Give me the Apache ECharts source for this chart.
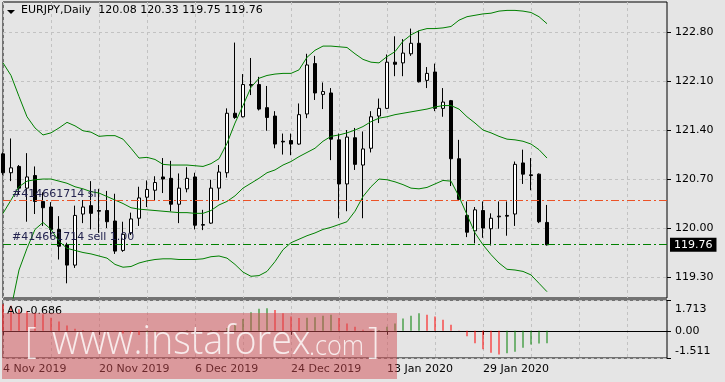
<!DOCTYPE html>
<html><head><meta charset="utf-8">
<script src="https://cdn.jsdelivr.net/npm/echarts@6/dist/echarts.min.js"></script>
<style>html,body{margin:0;padding:0;background:#e5e5e5;overflow:hidden}#c{width:725px;height:382px}</style>
</head><body><div id="c"></div>
<script>
const symbol = 'EURJPY';
const period = 'Daily';
const orderId = '414661714';
const dates = ['4 Nov 2019','5 Nov 2019','6 Nov 2019','7 Nov 2019','8 Nov 2019','11 Nov 2019','12 Nov 2019','13 Nov 2019','14 Nov 2019','15 Nov 2019','18 Nov 2019','19 Nov 2019','20 Nov 2019','21 Nov 2019','22 Nov 2019','25 Nov 2019','26 Nov 2019','27 Nov 2019','28 Nov 2019','29 Nov 2019','2 Dec 2019','3 Dec 2019','4 Dec 2019','5 Dec 2019','6 Dec 2019','9 Dec 2019','10 Dec 2019','11 Dec 2019','12 Dec 2019','13 Dec 2019','16 Dec 2019','17 Dec 2019','18 Dec 2019','19 Dec 2019','20 Dec 2019','23 Dec 2019','24 Dec 2019','26 Dec 2019','27 Dec 2019','30 Dec 2019','31 Dec 2019','2 Jan 2020','3 Jan 2020','6 Jan 2020','7 Jan 2020','8 Jan 2020','9 Jan 2020','10 Jan 2020','13 Jan 2020','14 Jan 2020','15 Jan 2020','16 Jan 2020','17 Jan 2020','20 Jan 2020','21 Jan 2020','22 Jan 2020','23 Jan 2020','24 Jan 2020','27 Jan 2020','28 Jan 2020','29 Jan 2020','30 Jan 2020','31 Jan 2020','3 Feb 2020','4 Feb 2020','5 Feb 2020','6 Feb 2020','7 Feb 2020','10 Feb 2020'];
const open  = [121.06,120.79,120.88,120.57,120.75,120.38,120.30,119.98,119.76,119.47,120.20,120.32,120.25,120.25,120.10,119.68,119.93,120.14,120.44,120.54,120.73,120.71,120.34,120.56,120.73,120.04,120.07,120.57,120.79,121.64,121.59,122.05,122.05,121.72,121.60,121.24,121.25,121.20,121.63,122.35,121.91,121.93,121.26,120.63,121.29,120.90,121.14,121.60,121.71,122.37,122.36,122.49,122.64,122.11,122.23,121.71,121.82,120.99,120.18,119.96,120.25,119.99,120.16,120.18,120.20,120.93,120.76,120.77,120.08];
const high  = [121.08,121.28,120.90,121.07,120.88,120.51,120.37,120.17,119.79,120.32,120.40,120.67,120.56,120.53,120.49,120.09,120.22,120.59,120.68,120.74,121.00,120.96,120.78,120.87,120.79,120.26,120.69,120.90,121.71,122.65,122.20,122.43,122.16,122.03,121.67,121.35,121.35,121.78,122.49,122.46,122.08,122.00,121.35,121.40,121.43,121.38,121.67,121.85,122.48,122.74,122.70,122.85,122.82,122.30,122.35,122.00,121.83,121.26,120.38,120.30,120.38,120.21,120.38,120.38,120.95,121.12,121.00,120.78,120.33];
const low   = [120.76,120.67,120.48,120.09,120.20,120.03,119.90,119.55,119.21,119.43,120.07,119.98,119.93,120.00,119.63,119.66,119.90,120.03,120.30,120.39,120.50,120.24,120.07,120.51,119.98,119.97,120.06,120.40,120.72,121.56,121.58,121.90,121.68,121.39,121.14,121.05,121.04,121.19,121.57,121.83,121.70,120.97,120.14,120.24,120.83,120.14,121.08,121.50,121.70,122.17,122.17,122.46,122.08,122.00,121.67,121.59,120.60,120.39,119.87,119.78,119.86,119.75,119.99,119.89,120.03,120.63,120.54,120.07,119.75];
const close = [120.79,120.86,120.57,120.73,120.38,120.29,119.98,119.74,119.47,120.18,120.30,120.21,120.24,120.09,119.67,119.91,120.13,120.43,120.55,120.65,120.70,120.34,120.57,120.71,120.04,120.05,120.57,120.80,121.64,121.58,122.05,122.04,121.70,121.58,121.20,121.23,121.20,121.62,122.33,121.93,121.95,121.27,120.63,121.30,120.91,121.13,121.59,121.71,122.37,122.34,122.50,122.64,122.09,122.21,121.71,121.80,120.99,120.41,119.94,120.26,120.00,120.14,120.17,120.17,120.91,120.77,120.75,120.09,119.76];
const bbUpper  = [122.36,122.18,121.88,121.59,121.43,121.33,121.36,121.43,121.51,121.46,121.39,121.37,121.31,121.32,121.32,121.27,121.14,121.00,121.01,120.98,120.91,120.90,120.90,120.90,120.89,120.88,120.92,120.99,121.21,121.50,121.75,122.01,122.14,122.18,122.20,122.21,122.21,122.26,122.44,122.54,122.60,122.60,122.59,122.58,122.49,122.41,122.37,122.36,122.45,122.52,122.67,122.76,122.82,122.85,122.85,122.86,122.88,122.97,123.02,123.04,123.06,123.07,123.10,123.11,123.11,123.10,123.08,123.02,122.92];
const bbMiddle = [120.21,120.40,120.59,120.67,120.69,120.70,120.70,120.67,120.64,120.59,120.56,120.52,120.50,120.45,120.40,120.35,120.29,120.27,120.26,120.25,120.24,120.23,120.22,120.22,120.21,120.21,120.25,120.33,120.38,120.46,120.57,120.64,120.71,120.79,120.83,120.90,120.95,121.02,121.08,121.14,121.24,121.31,121.33,121.36,121.40,121.45,121.52,121.57,121.59,121.62,121.64,121.66,121.68,121.70,121.73,121.75,121.75,121.70,121.59,121.50,121.40,121.36,121.31,121.27,121.26,121.24,121.20,121.12,121.00];
const bbLower  = [118.50,118.85,119.40,119.71,119.98,120.08,119.98,119.81,119.71,119.68,119.65,119.63,119.60,119.57,119.48,119.44,119.45,119.50,119.53,119.55,119.56,119.56,119.55,119.55,119.55,119.56,119.59,119.60,119.57,119.48,119.37,119.31,119.32,119.38,119.52,119.69,119.79,119.84,119.89,119.93,119.98,120.01,120.05,120.09,120.24,120.45,120.59,120.70,120.69,120.66,120.62,120.57,120.56,120.58,120.63,120.68,120.67,120.45,120.19,119.93,119.76,119.62,119.50,119.41,119.40,119.38,119.33,119.21,119.09];
const ao = [1.48,1.39,1.20,1.10,1.01,0.92,0.73,0.52,0.30,0.11,0.05,0.03,0.00,0.02,-0.02,-0.15,-0.21,-0.23,-0.20,-0.08,-0.03,0.01,0.02,0.05,0.03,0.02,0.04,0.03,0.15,0.37,0.66,1.03,1.22,1.25,1.16,0.97,0.79,0.71,0.72,0.75,0.84,0.90,0.71,0.41,0.22,0.06,0.02,0.04,0.22,0.41,0.69,0.84,0.97,0.90,0.79,0.62,0.34,0.02,-0.30,-0.69,-1.03,-1.22,-1.31,-1.25,-1.16,-0.94,-0.76,-0.70,-0.686];
const priceTicks = [119.30,120.00,120.70,121.40,122.10,122.80];
const aoTicks = [-1.511,0,1.713];
const slPrice = 120.39;
const sellPrice = 119.77;
const lastPrice = 119.76;

const FONT = 'DejaVu Sans';
const N_SLOTS = 84;
const L = dates.length - 1;
const cats = dates.concat(Array(N_SLOTS - dates.length).fill(''));
const gridDash = {color:'#c2c2c2', type:[3,3], width:1};
const everySix = (i) => i % 6 === 0;
const labelIdx = (i) => i % 12 === 0 && i < dates.length;
const candles = dates.map((d,i) => [open[i], close[i], low[i], high[i]]);
const aoBars = ao.map((v,i) => ({value:v, itemStyle:{color:(i>0 && v>ao[i-1]) ? '#008000' : '#ff0000'}}));

const chart = echarts.init(document.getElementById('c'), null, {width:725, height:382});
chart.setOption({
  animation:false,
  backgroundColor:'#e5e5e5',
  textStyle:{fontFamily:FONT},
  title:[
    {text:`${symbol},${period}  ${open[L].toFixed(2)} ${high[L].toFixed(2)} ${low[L].toFixed(2)} ${close[L].toFixed(2)}`,
     left:21, top:5, padding:0, textStyle:{fontSize:11, fontWeight:'normal', color:'#000', fontFamily:FONT}},
    {text:'AO ' + ao[L].toFixed(3), left:7, top:306, padding:0,
     textStyle:{fontSize:11, fontWeight:'normal', color:'#000', fontFamily:FONT}}
  ],
  grid:[
    {left:3, top:2, width:664, height:296, show:true, borderColor:'#000', borderWidth:1, backgroundColor:'transparent'},
    {left:3, top:300, width:664, height:58, show:true, borderColor:'#000', borderWidth:1, backgroundColor:'transparent'}
  ],
  xAxis:[
    {type:'category', gridIndex:0, data:cats, boundaryGap:false,
     axisLine:{show:false}, axisTick:{show:false}, axisLabel:{show:false},
     splitLine:{show:true, interval:everySix, lineStyle:gridDash}},
    {type:'category', gridIndex:1, data:cats, boundaryGap:false,
     axisLine:{show:true, lineStyle:{color:'#000'}},
     axisTick:{show:true, interval:labelIdx, length:4, lineStyle:{color:'#000'}},
     axisLabel:{show:true, interval:labelIdx, align:'left', margin:6, fontSize:11, color:'#000', fontFamily:FONT},
     splitLine:{show:true, interval:everySix, lineStyle:gridDash}}
  ],
  yAxis:[
    {type:'value', gridIndex:0, position:'right', min:119.0, max:123.23, scale:true,
     axisLine:{show:false},
     axisTick:{show:true, length:4, customValues:priceTicks, lineStyle:{color:'#000'}},
     axisLabel:{show:true, customValues:priceTicks, margin:8, fontSize:11, color:'#000', fontFamily:FONT,
                formatter:(v)=>Number(v).toFixed(2)},
     splitLine:{show:true, lineStyle:gridDash}},
    {type:'value', gridIndex:1, position:'right', min:-1.511, max:1.713,
     axisLine:{show:false},
     axisTick:{show:true, length:4, customValues:aoTicks, lineStyle:{color:'#000'}},
     axisLabel:{show:true, customValues:aoTicks, margin:8, fontSize:11, color:'#000', fontFamily:FONT,
                verticalAlignMaxLabel:'top', verticalAlignMinLabel:'bottom',
                formatter:(v)=> v === 0 ? '0.00' : (v > 0 ? '{mx|' + v + '}' : '{mn|' + v + '}'),
                rich:{mx:{padding:[4,0,0,0], fontSize:11, color:'#000', fontFamily:FONT},
                      mn:{padding:[0,0,1,0], fontSize:11, color:'#000', fontFamily:FONT}}},
     splitLine:{show:true, lineStyle:gridDash}}
  ],
  series:[
    {type:'line', name:'orders', xAxisIndex:0, yAxisIndex:0, data:[], z:1, silent:true,
     markLine:{silent:true, symbol:'none', animation:false,
       label:{position:'insideStartTop', distance:[9,1], fontSize:11, color:'#23234f', fontFamily:FONT},
       data:[
         {yAxis:slPrice, lineStyle:{color:'#ec5226', type:[8,3,2,3], width:1}, label:{formatter:'#' + orderId + ' sl'}},
         {yAxis:sellPrice, lineStyle:{color:'#008000', type:[8,3,2,3], width:1}, label:{formatter:'#' + orderId + ' sell 1.00'}}
       ]}},
    {type:'candlestick', name:symbol, xAxisIndex:0, yAxisIndex:0, data:candles, barWidth:4, z:3,
     itemStyle:{color:'#ffffff', color0:'#000000', borderColor:'#000000', borderColor0:'#000000', borderWidth:1}},
    {type:'line', name:'BB upper', xAxisIndex:0, yAxisIndex:0, data:bbUpper, symbol:'none', z:4, silent:true,
     lineStyle:{color:'#008000', width:1}},
    {type:'line', name:'BB middle', xAxisIndex:0, yAxisIndex:0, data:bbMiddle, symbol:'none', z:4, silent:true,
     lineStyle:{color:'#008000', width:1}},
    {type:'line', name:'BB lower', xAxisIndex:0, yAxisIndex:0, data:bbLower, symbol:'none', z:4, silent:true,
     lineStyle:{color:'#008000', width:1}},
    {type:'line', name:'price', xAxisIndex:0, yAxisIndex:0, data:[], z:6, silent:true,
     markLine:{silent:true, symbol:'none', animation:false,
       lineStyle:{color:'rgba(0,0,0,0)', width:1, type:'solid'},
       label:{show:true, position:'end', distance:3, formatter:()=>lastPrice.toFixed(2), backgroundColor:'#000000', color:'#ffffff',
              padding:[2,4,1,4], fontSize:11, fontFamily:FONT, opacity:1},
       data:[{yAxis:lastPrice}]}},
    {type:'bar', name:'AO', xAxisIndex:1, yAxisIndex:1, data:aoBars, barWidth:1, silent:true}
  ],
  graphic:[
    {type:'polygon', shape:{points:[[7,10],[15,10],[11,14]]}, style:{fill:'#000'}, silent:true},
    {type:'rect', shape:{x:2, y:313, width:395, height:66}, style:{fill:'rgba(210,78,84,0.5)'}, z:100, silent:true},
    {type:'text', x:25, y:343, z:101, silent:true,
     style:{text:'[', fill:'rgba(255,255,255,0.8)', font:'300 36px "Open Sans"', verticalAlign:'middle'}},
    {type:'text', x:52, y:343, z:101, silent:true, scaleX:0.94,
     style:{text:'www.instaforex', fill:'rgba(255,255,255,0.8)', font:'300 40px "Open Sans"', verticalAlign:'middle'}},
    {type:'text', x:309, y:347, z:101, silent:true, scaleX:0.9,
     style:{text:'.com', fill:'rgba(255,255,255,0.8)', font:'300 28px "Open Sans"', verticalAlign:'middle'}},
    {type:'text', x:368, y:343, z:101, silent:true,
     style:{text:']', fill:'rgba(255,255,255,0.8)', font:'300 36px "Open Sans"', verticalAlign:'middle'}}
  ]
});
</script>
</body></html>
